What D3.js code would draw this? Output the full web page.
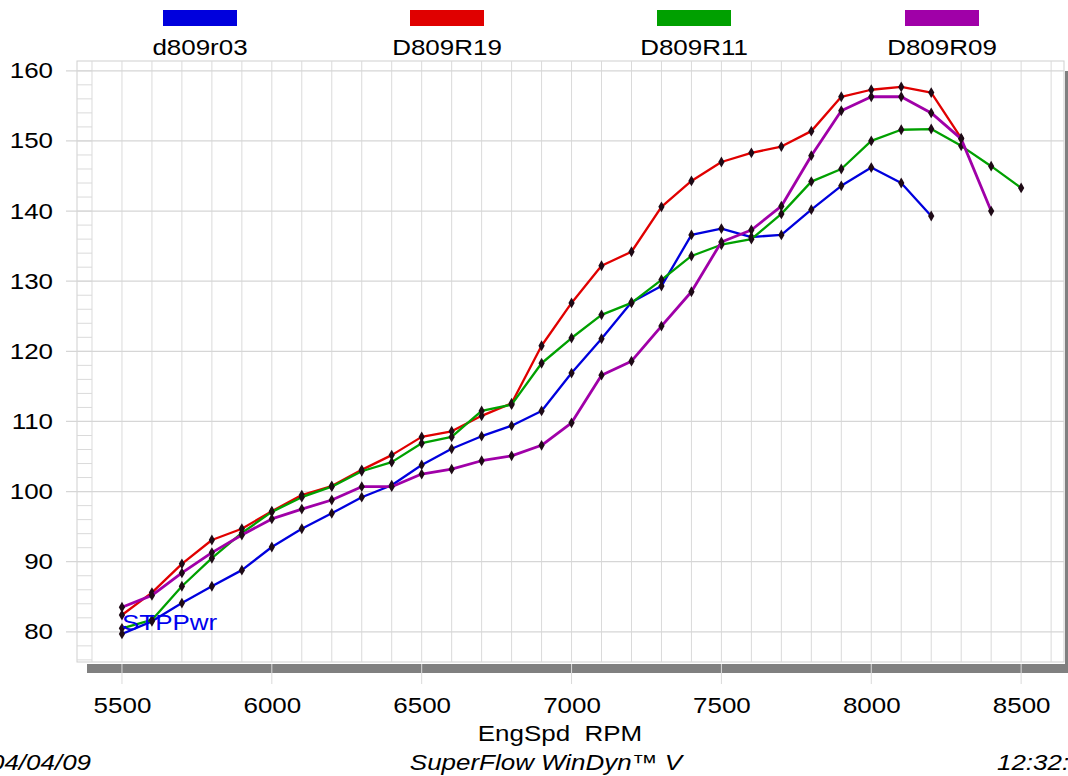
<!DOCTYPE html>
<html>
<head>
<meta charset="utf-8">
<script src="https://cdn.jsdelivr.net/npm/d3@7"></script>
<style>
  body { margin: 0; background: #fff; }
  svg { display: block; font-family: "Liberation Sans", Arial, sans-serif; }
</style>
</head>
<body>
<svg id="chart" width="1068" height="776"></svg>
<script>
// engine speed steps (rpm)
var rpm = d3.range(5500, 8501, 100);

var names = ["d809r03", "D809R19", "D809R11", "D809R09"];
var colors = ["#0000dd", "#e00000", "#00a000", "#a000a8"];

// STPPwr readings, one per 100 rpm starting at 5500
var d809r03 = [79.7, 81.5, 84.1, 86.5, 88.8, 92.1, 94.7, 96.9, 99.2, 100.9,
  103.8, 106.1, 107.9, 109.4, 111.5, 116.9, 121.8, 127.0, 129.3, 136.6,
  137.5, 136.3, 136.6, 140.2, 143.6, 146.2, 144.0, 139.3];
var D809R19 = [82.4, 85.6, 89.7, 93.1, 94.7, 97.2, 99.5, 100.8, 103.1, 105.2,
  107.8, 108.6, 110.8, 112.6, 120.8, 126.9, 132.2, 134.2, 140.6, 144.3,
  147.0, 148.3, 149.2, 151.4, 156.3, 157.3, 157.7, 156.9, 150.4];
var D809R11 = [80.5, 81.7, 86.5, 90.5, 94.1, 97.1, 99.2, 100.7, 102.9, 104.2,
  106.9, 107.8, 111.5, 112.4, 118.3, 121.9, 125.2, 126.9, 130.2, 133.6,
  135.2, 136.0, 139.6, 144.2, 146.0, 150.0, 151.6, 151.7, 149.3, 146.4, 143.3];
var D809R09 = [83.5, 85.2, 88.4, 91.3, 93.8, 96.1, 97.5, 98.8, 100.7, 100.7,
  102.5, 103.2, 104.4, 105.1, 106.6, 109.8, 116.6, 118.6, 123.6, 128.5,
  135.6, 137.3, 140.7, 147.9, 154.3, 156.3, 156.3, 154.0, 150.3, 140.0];

var xTicks = [5500, 6000, 6500, 7000, 7500, 8000, 8500];
var yTicks = [80, 90, 100, 110, 120, 130, 140, 150, 160];

var seriesVals = [d809r03, D809R19, D809R11, D809R09];

var svg = d3.select("#chart");
var pLeft = 77, pRight = 1064, pTop = 61, pBottom = 662;
var stretch = 1.18; // the original text is a bit wide

var x = d3.scaleLinear().domain([5350, 8643]).range([pLeft, pRight]);
var y = d3.scaleLinear().domain([75.7, 161.4]).range([pBottom, pTop]);

function label(px, py, s, anchor, italic, color) {
  return svg.append("text")
    .attr("transform", "translate(" + px + "," + py + ") scale(" + stretch + ",1)")
    .attr("text-anchor", anchor || "start")
    .attr("font-size", 22)
    .attr("font-style", italic ? "italic" : "normal")
    .attr("fill", color || "#000")
    .text(s);
}

// right and bottom shadow of the plot frame
svg.append("rect").attr("x", pRight + 1).attr("y", 71).attr("width", 4).attr("height", pBottom - 71 + 10).attr("fill", "#808080");
svg.append("rect").attr("x", 87).attr("y", pBottom + 2).attr("width", 1068 - 87).attr("height", 9).attr("fill", "#808080");

svg.append("rect").attr("x", pLeft).attr("y", pTop).attr("width", pRight - pLeft).attr("height", pBottom - pTop)
  .attr("fill", "#fff").attr("stroke", "#cfcfcf").attr("stroke-width", 1);

// vertical grid every 100 rpm
svg.append("g").selectAll("line").data(d3.range(5400, 8601, 100)).enter().append("line")
  .attr("x1", function(d) { return x(d); }).attr("x2", function(d) { return x(d); })
  .attr("y1", pTop).attr("y2", pBottom)
  .attr("stroke", "#dadada").attr("stroke-width", 1);

// small y ticks in the left strip every 2 units
svg.append("g").selectAll("line").data(d3.range(76, 161, 2)).enter().append("line")
  .attr("x1", pLeft).attr("x2", x(5400))
  .attr("y1", function(d) { return y(d); }).attr("y2", function(d) { return y(d); })
  .attr("stroke", "#dadada").attr("stroke-width", 1);

// horizontal grid every 10
svg.append("g").selectAll("line").data(yTicks).enter().append("line")
  .attr("x1", 66).attr("x2", pRight)
  .attr("y1", function(d) { return y(d); }).attr("y2", function(d) { return y(d); })
  .attr("stroke", "#d6d6d6").attr("stroke-width", 1.2);

// x tick marks below the bar
svg.append("g").selectAll("line").data(xTicks).enter().append("line")
  .attr("x1", function(d) { return x(d); }).attr("x2", function(d) { return x(d); })
  .attr("y1", pBottom + 2).attr("y2", pBottom + 22)
  .attr("stroke", "#dadada").attr("stroke-width", 1);

var yAxis = d3.axisLeft(y).tickValues(yTicks).tickSize(0).tickPadding(0);
var gy = svg.append("g").attr("transform", "translate(53,0)").call(yAxis);
gy.select(".domain").remove();
gy.selectAll("text").attr("font-size", 22).attr("fill", "#000")
  .attr("font-family", "Liberation Sans, Arial, sans-serif")
  .attr("transform", "scale(" + stretch + ",1)");

var xAxis = d3.axisBottom(x).tickValues(xTicks).tickSize(0).tickPadding(0).tickFormat(d3.format("d"));
var gx = svg.append("g").attr("transform", "translate(0,697)").call(xAxis);
gx.select(".domain").remove();
gx.selectAll("text").attr("font-size", 22).attr("fill", "#000")
  .attr("font-family", "Liberation Sans, Arial, sans-serif")
  .attr("transform", "scale(" + stretch + ",1)");

label(560, 741, "EngSpd  RPM", "middle").attr("xml:space", "preserve");

var line = d3.line()
  .x(function(d, i) { return x(rpm[i]); })
  .y(function(d) { return y(d); });

seriesVals.forEach(function(vals, k) {
  var g = svg.append("g");
  g.append("path").attr("d", line(vals)).attr("fill", "none")
    .attr("stroke", colors[k]).attr("stroke-width", k === 3 ? 2.8 : 2.3).attr("stroke-linejoin", "round");
  g.selectAll("path.pt").data(vals).enter().append("path").attr("class", "pt")
    .attr("d", d3.symbol().type(d3.symbolDiamond).size(34))
    .attr("transform", function(d, i) { return "translate(" + x(rpm[i]) + "," + y(d) + ")"; })
    .attr("fill", "#1e0a16");
});

label(122, 630, "STPPwr", "start", false, "#0000ee");

// legend
var legX = [200, 447, 694, 942];
names.forEach(function(n, i) {
  svg.append("rect").attr("x", legX[i] - 37).attr("y", 10)
    .attr("width", 74).attr("height", 16).attr("fill", colors[i]);
  label(legX[i], 55, n, "middle");
});

// footer
label(-10, 770, "04/04/09", "start", true);
label(546, 770, "SuperFlow WinDyn\u2122 V", "middle", true);
label(997, 770, "12:32:", "start", true);
</script>
</body>
</html>
